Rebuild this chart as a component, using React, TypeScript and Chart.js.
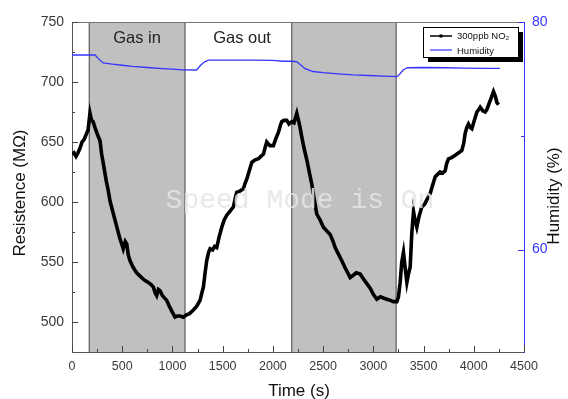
import { useEffect, useRef } from "react";
import { Chart, registerables } from "chart.js";

Chart.register(...registerables);

// Sensor resistance (MΩ) against time (s)
const resTime = [
  0, 20, 40, 60, 80, 100, 120, 140, 160, 179, 195, 210, 229, 250, 279, 295, 312, 340, 360, 378,
  400, 428, 450, 475, 495, 510, 530, 545, 560, 578, 600, 620, 644, 680, 720, 760, 790, 810, 830, 843,
  860, 876, 900, 943, 970, 1000, 1026, 1050, 1076, 1109, 1140, 1170, 1208, 1240, 1275, 1295, 1308, 1325, 1341, 1360,
  1375, 1400, 1420, 1441, 1465, 1491, 1515, 1541, 1570, 1607, 1625, 1640, 1670, 1706, 1725, 1740, 1765, 1790, 1820, 1856,
  1880, 1906, 1925, 1939, 1970, 2005, 2030, 2055, 2075, 2089, 2110, 2138, 2160, 2188, 2210, 2238, 2255, 2271, 2288, 2310,
  2338, 2360, 2387, 2410, 2437, 2470, 2503, 2535, 2570, 2600, 2620, 2650, 2686, 2720, 2769, 2800, 2830, 2869, 2900, 2935,
  2970, 3000, 3035, 3070, 3100, 3134, 3170, 3200, 3234, 3250, 3267, 3283, 3300, 3317, 3334, 3350, 3367, 3383, 3400, 3415,
  3433, 3455, 3483, 3510, 3540, 3566, 3590, 3616, 3640, 3665, 3690, 3715, 3730, 3748, 3780, 3815, 3850, 3881, 3900, 3914,
  3930, 3947, 3965, 3981, 4005, 4031, 4050, 4064, 4090, 4113, 4130, 4147, 4170, 4196, 4215, 4230, 4246,
];
const resValue = [
  640, 641, 638, 641, 645, 650, 652, 656, 660, 674, 668, 667, 662, 657, 651, 640, 632, 618, 610, 601,
  594, 585, 578, 570, 565, 561, 567, 565, 556, 551, 547, 544, 541, 538, 535, 533, 531, 529, 524, 522,
  527, 526, 522, 518, 513, 508, 504, 505, 505, 504, 506, 507, 510, 513, 518, 525, 529, 541, 551, 558,
  561, 560, 563, 562, 571, 579, 585, 589, 592, 596, 603, 608, 609, 611, 616, 619, 626, 633, 635, 636,
  638, 640, 646, 650, 647, 647, 653, 658, 664, 667, 668, 668, 665, 667, 666, 674, 668, 662, 654, 645,
  635, 626, 615, 603, 590, 585, 579, 576, 573, 567, 562, 557, 551, 545, 537, 539, 541, 540, 536, 532,
  528, 523, 519, 521, 520, 519, 518, 517, 517, 521, 533, 550, 558, 545, 533, 540, 546, 574, 592, 585,
  579, 588, 596, 598, 603, 607, 614, 621, 623, 625, 624, 626, 632, 636, 637, 639, 641, 643, 649, 657,
  662, 665, 662, 661, 668, 675, 677, 679, 676, 675, 677, 681, 686, 692, 688, 683, 681,
];

// Relative humidity (%) against time (s)
const humTime = [
  0, 230, 260, 310, 400, 500, 600, 750, 900, 1000, 1100, 1240, 1280, 1320, 1360, 1500, 1800, 2000, 2100, 2200,
  2240, 2280, 2320, 2400, 2500, 2650, 2800, 2950, 3100, 3237, 3270, 3300, 3340, 3500, 3700, 3900, 4100, 4260,
];
const humValue = [
  77.1, 77.1, 76.8, 76.4, 76.3, 76.2, 76.1, 76.0, 75.9, 75.85, 75.8, 75.78, 76.2, 76.5, 76.65, 76.65, 76.65, 76.62, 76.55, 76.55,
  76.5, 76.2, 75.9, 75.65, 75.55, 75.45, 75.35, 75.3, 75.25, 75.2, 75.5, 75.8, 75.98, 76.0, 75.98, 75.95, 75.93, 75.93,
];

const timeTicks = [0, 500, 1000, 1500, 2000, 2500, 3000, 3500, 4000, 4500];
const resTicks = [500, 550, 600, 650, 700, 750];
const humTicks = [60, 80];

// Exposure windows (s) and the phase captions
const gasInPeriods = [
  [172, 1125],
  [2188, 3227],
];
const phaseLabels = ["Gas in", "Gas out"];
const phaseLabelTimes = [647, 1693];

const seriesNames = ["300ppb NO₂", "Humidity"];

const SANS = "'Liberation Sans', Arial, sans-serif";
const BLUE = "#3535ff";

const decorations = {
  id: "decorations",
  beforeDatasetsDraw(chart: any) {
    const { ctx, chartArea: a, scales } = chart;
    const x = scales.x;
    ctx.save();
    for (const [s, e] of gasInPeriods) {
      const x0 = x.getPixelForValue(s);
      const x1 = x.getPixelForValue(e);
      ctx.fillStyle = "#c0c0c0";
      ctx.fillRect(x0, a.top, x1 - x0, a.bottom - a.top);
      ctx.strokeStyle = "#5a5a5a";
      ctx.lineWidth = 1.2;
      ctx.beginPath();
      ctx.moveTo(x0, a.top);
      ctx.lineTo(x0, a.bottom);
      ctx.moveTo(x1, a.top);
      ctx.lineTo(x1, a.bottom);
      ctx.stroke();
    }
    ctx.restore();
  },
  afterDatasetsDraw(chart: any) {
    const { ctx, chartArea: a, scales } = chart;
    const { x, y, y1 } = scales;
    ctx.save();

    // watermark
    ctx.font = "28px 'Liberation Mono', monospace";
    ctx.fillStyle = "rgba(228,228,228,0.85)";
    ctx.textAlign = "center";
    ctx.textBaseline = "middle";
    ctx.fillText("Speed Mode is On", 300, 201);

    // top frame
    ctx.strokeStyle = "#777";
    ctx.lineWidth = 1;
    ctx.beginPath();
    ctx.moveTo(a.left, a.top + 0.5);
    ctx.lineTo(a.right, a.top + 0.5);
    ctx.stroke();

    // inward tick marks
    ctx.strokeStyle = "#444";
    ctx.lineWidth = 1;
    ctx.beginPath();
    for (let t = 0; t <= 4500; t += 250) {
      const px = Math.round(x.getPixelForValue(t)) + 0.5;
      const len = t % 500 === 0 ? 6 : 3;
      ctx.moveTo(px, a.bottom);
      ctx.lineTo(px, a.bottom - len);
    }
    for (let v = 500; v <= 750; v += 25) {
      const py = Math.round(y.getPixelForValue(v)) + 0.5;
      const len = v % 50 === 0 ? 6 : 3;
      ctx.moveTo(a.left, py);
      ctx.lineTo(a.left + len, py);
    }
    ctx.stroke();
    ctx.strokeStyle = BLUE;
    ctx.beginPath();
    for (let v = 60; v <= 80; v += 10) {
      const py = Math.round(y1.getPixelForValue(v)) + 0.5;
      const len = v % 20 === 0 ? 6 : 3;
      ctx.moveTo(a.right, py);
      ctx.lineTo(a.right - len, py);
    }
    ctx.stroke();

    // phase captions
    ctx.font = `16.5px ${SANS}`;
    ctx.fillStyle = "#222";
    ctx.textAlign = "center";
    ctx.textBaseline = "middle";
    phaseLabels.forEach((txt, i) => {
      ctx.fillText(txt, x.getPixelForValue(phaseLabelTimes[i]), a.top + 16);
    });
    ctx.restore();
  },
  afterDraw(chart: any) {
    const { ctx, chartArea: a } = chart;
    ctx.save();

    // legend box with drop shadow
    const bx = 423, by = 27, bw = 95, bh = 30;
    ctx.fillStyle = "#000";
    ctx.fillRect(bx + 5, by + 5, bw, bh);
    ctx.fillStyle = "#fff";
    ctx.fillRect(bx, by, bw, bh);
    ctx.strokeStyle = "#000";
    ctx.lineWidth = 1;
    ctx.strokeRect(bx + 0.5, by + 0.5, bw, bh);

    ctx.strokeStyle = "#000";
    ctx.lineWidth = 1.5;
    ctx.beginPath();
    ctx.moveTo(430, 36);
    ctx.lineTo(452, 36);
    ctx.stroke();
    ctx.fillStyle = "#000";
    ctx.fillRect(439.5, 34.5, 3, 3);

    ctx.strokeStyle = BLUE;
    ctx.lineWidth = 1.2;
    ctx.beginPath();
    ctx.moveTo(430, 50);
    ctx.lineTo(452, 50);
    ctx.stroke();

    ctx.font = `9.5px ${SANS}`;
    ctx.fillStyle = "#111";
    ctx.textAlign = "left";
    ctx.textBaseline = "middle";
    ctx.fillText(seriesNames[0], 457, 36);
    ctx.fillText(seriesNames[1], 457, 51);

    // axis titles
    ctx.font = `17px ${SANS}`;
    ctx.fillStyle = "#111";
    ctx.textAlign = "center";
    ctx.textBaseline = "middle";
    ctx.fillText("Time (s)", (a.left + a.right) / 2 + 1, 391);

    ctx.save();
    ctx.translate(20, 193);
    ctx.rotate(-Math.PI / 2);
    ctx.fillText("Resistence (MΩ)", 0, 0);
    ctx.restore();

    ctx.save();
    ctx.translate(554, 196);
    ctx.rotate(-Math.PI / 2);
    ctx.fillText("Humidity (%)", 0, 0);
    ctx.restore();

    ctx.restore();
  },
};

const plain = (v: any) => String(v);

export default function App() {
  const canvasRef = useRef<HTMLCanvasElement | null>(null);

  useEffect(() => {
    const canvas = canvasRef.current;
    if (!canvas) return;

    const chart = new Chart(canvas, {
      type: "line",
      data: {
        datasets: [
          {
            label: seriesNames[0],
            data: resTime.map((t, i) => ({ x: t, y: resValue[i] })),
            yAxisID: "y",
            borderColor: "#000",
            borderWidth: 3.6,
            borderJoinStyle: "miter",
            pointRadius: 0,
            tension: 0,
          },
          {
            label: seriesNames[1],
            data: humTime.map((t, i) => ({ x: t, y: humValue[i] })),
            yAxisID: "y1",
            borderColor: BLUE,
            borderWidth: 1.3,
            pointRadius: 0,
            tension: 0,
          },
        ],
      },
      plugins: [decorations],
      options: {
        animation: false,
        responsive: false,
        devicePixelRatio: 1,
        layout: { padding: { top: 22, left: 0, right: 0, bottom: 0 } },
        plugins: {
          legend: { display: false },
          tooltip: { enabled: false },
        },
        scales: {
          x: {
            type: "linear",
            min: 0,
            max: 4500,
            afterBuildTicks: (s: any) => {
              s.ticks = timeTicks.map((v) => ({ value: v }));
            },
            afterFit: (s: any) => {
              s.height = 47;
            },
            grid: { display: false, drawTicks: false, tickLength: 0 },
            border: { display: true, color: "#555", width: 1 },
            ticks: {
              callback: plain,
              color: "#3a3a3a",
              font: { family: SANS, size: 12.5 },
              padding: 7,
              maxRotation: 0,
              autoSkip: false,
            },
          },
          y: {
            type: "linear",
            position: "left",
            min: 475,
            max: 750,
            afterBuildTicks: (s: any) => {
              s.ticks = resTicks.map((v) => ({ value: v }));
            },
            afterFit: (s: any) => {
              s.width = 72;
            },
            grid: { display: false, drawTicks: false, tickLength: 0 },
            border: { display: true, color: "#555", width: 1 },
            ticks: {
              callback: plain,
              color: "#3a3a3a",
              font: { family: SANS, size: 14 },
              padding: 8,
              autoSkip: false,
            },
          },
          y1: {
            type: "linear",
            position: "right",
            min: 51,
            max: 80,
            afterBuildTicks: (s: any) => {
              s.ticks = humTicks.map((v) => ({ value: v }));
            },
            afterFit: (s: any) => {
              s.width = 44;
            },
            grid: { display: false, drawTicks: false, tickLength: 0 },
            border: { display: true, color: BLUE, width: 1 },
            ticks: {
              callback: plain,
              color: BLUE,
              font: { family: SANS, size: 14 },
              padding: 8,
              autoSkip: false,
            },
          },
        },
      },
    } as any);

    return () => chart.destroy();
  }, []);

  return (
    <div style={{ position: "fixed", left: 0, top: 0, width: 568, height: 399, background: "#fff" }}>
      <canvas ref={canvasRef} width={568} height={399} style={{ display: "block" }} />
    </div>
  );
}
